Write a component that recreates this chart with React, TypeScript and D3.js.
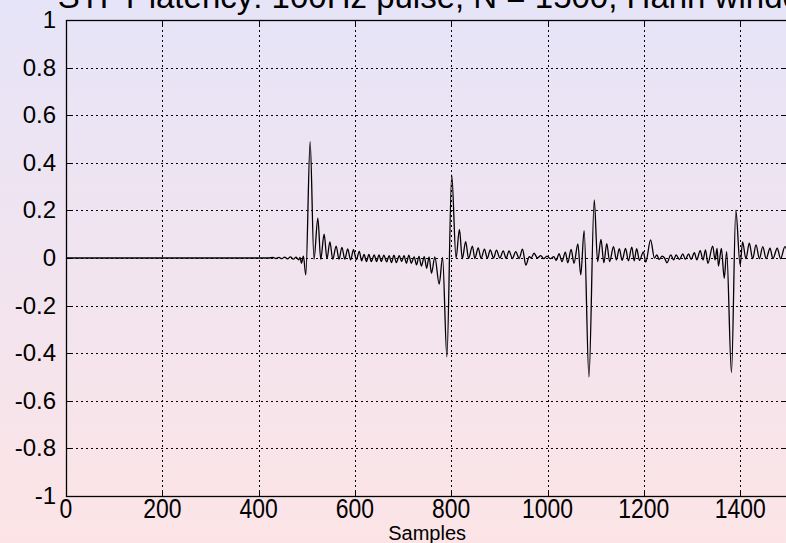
import { useEffect, useRef } from "react";
import * as d3 from "d3";

// readings of the impulse response (sample index, amplitude)
const sampleIdx = [
  0, 420, 430, 436, 442, 448, 454, 460, 466, 472, 478, 483, 486, 489, 493, 498,
  507, 515, 523, 529, 536, 542, 548, 554, 561, 567, 573, 579, 585, 591, 597, 603,
  609, 614, 619, 624, 629, 634, 640, 645, 650, 655, 660, 666, 671, 676, 681, 686,
  692, 697, 702, 707, 712, 717, 723, 728, 733, 738, 744, 749, 754, 759, 766, 775,
  782, 791, 801, 810, 817, 823, 830, 836, 844, 849, 856, 862, 869, 875, 881, 888,
  894, 901, 908, 914, 920, 927, 934, 941, 948, 955, 962, 966, 972, 979, 986, 992,
  999, 1006, 1013, 1018, 1024, 1030, 1037, 1042, 1049, 1055, 1063, 1069, 1076, 1086, 1097, 1104,
  1111, 1117, 1123, 1129, 1137, 1143, 1149, 1155, 1162, 1168, 1175, 1180, 1185, 1191, 1199, 1204,
  1214, 1222, 1227, 1232, 1238, 1243, 1248, 1256, 1262, 1267, 1274, 1281, 1286, 1293, 1298, 1305,
  1310, 1317, 1323, 1328, 1333, 1343, 1348, 1352, 1355, 1361, 1367, 1372, 1382, 1391, 1400, 1405,
  1412, 1419, 1426, 1433, 1440, 1447, 1454, 1462, 1468, 1477, 1484, 1493, 1500,
];
const amplitude = [
  0, 0, 0.002, -0.002, 0.003, -0.003, 0.004, -0.004, 0.005, -0.005, 0.004, -0.008, 0.002, -0.022, 0.008, -0.071,
  0.489, -0.005, 0.167, -0.005, 0.1, -0.003, 0.068, -0.005, 0.05, -0.005, 0.045, -0.005, 0.038, -0.008, 0.035, -0.007,
  0.028, -0.012, 0.015, -0.015, 0.015, -0.015, 0.013, -0.015, 0.013, -0.015, 0.012, -0.016, 0.01, -0.019, 0.012, -0.019,
  0.01, -0.015, 0.01, -0.022, 0.012, -0.022, 0.005, -0.029, 0.007, -0.034, 0.006, -0.043, 0.005, -0.064, 0.005, -0.11,
  0.003, -0.415, 0.349, 0.0, 0.12, -0.003, 0.069, -0.002, 0.05, -0.002, 0.042, -0.002, 0.037, -0.002, 0.034, 0.0,
  0.033, 0.0, 0.03, -0.002, 0.03, -0.002, 0.027, -0.002, 0.037, -0.03, 0.006, 0.0, 0.02, 0.0, 0.01, -0.003,
  0.008, -0.003, 0.006, -0.01, 0.018, -0.015, 0.025, -0.02, 0.036, -0.022, 0.059, -0.071, 0.115, -0.5, 0.244, -0.015,
  0.078, -0.02, 0.06, -0.015, 0.048, -0.008, 0.039, -0.01, 0.04, -0.012, 0.046, -0.012, 0.039, -0.01, 0.026, -0.017,
  0.076, 0.0, 0.013, -0.006, 0.008, 0.0, -0.02, 0.013, -0.008, 0.013, -0.006, 0.017, -0.006, 0.017, -0.006, 0.022,
  -0.008, 0.031, -0.008, 0.034, -0.022, 0.05, -0.008, 0.04, -0.034, 0.04, -0.085, 0.027, -0.482, 0.2, -0.03, 0.068,
  -0.003, 0.062, -0.003, 0.055, -0.003, 0.048, -0.003, 0.041, -0.003, 0.041, -0.003, 0.048, 0.01,
];

const xTicks = [0, 200, 400, 600, 800, 1000, 1200, 1400];
const yTicks = [-1, -0.8, -0.6, -0.4, -0.2, 0, 0.2, 0.4, 0.6, 0.8, 1];
const title = "STFT latency: 100Hz pulse, N = 1500, Hann window";
const xLabel = "Samples";

const W = 786;
const H = 543;
const font = "'Liberation Sans', Arial, Helvetica, sans-serif";

export default function App() {
  const ref = useRef(null);

  useEffect(() => {
    draw();
  });

  function draw() {
    const svg = d3.select(ref.current);
    svg.selectAll("*").remove();

    const defs = svg.append("defs");
    const grad = defs
      .append("linearGradient")
      .attr("id", "bg")
      .attr("x1", 0)
      .attr("y1", 0)
      .attr("x2", 0)
      .attr("y2", 1);
    grad.append("stop").attr("offset", "0%").attr("stop-color", "#e6e4f8");
    grad.append("stop").attr("offset", "100%").attr("stop-color", "#fce4e6");
    svg.append("rect").attr("width", W).attr("height", H).attr("fill", "url(#bg)");

    const x = d3.scaleLinear().domain([0, 1500]).range([66, 788.3]);
    const y = d3.scaleLinear().domain([-1, 1]).range([496, 20]);
    const [x0, x1] = x.range();
    const [y0, y1] = y.range();

    // grid
    const grid = svg.append("g").attr("stroke", "#000").attr("stroke-width", 1).attr("stroke-dasharray", "2,3");
    grid
      .selectAll("line.gx")
      .data(xTicks.slice(1))
      .enter()
      .append("line")
      .attr("x1", (d) => Math.round(x(d)) + 0.5)
      .attr("x2", (d) => Math.round(x(d)) + 0.5)
      .attr("y1", y1)
      .attr("y2", y0);
    grid
      .selectAll("line.gy")
      .data(yTicks.slice(1, -1))
      .enter()
      .append("line")
      .attr("y1", (d) => Math.round(y(d)) + 0.5)
      .attr("y2", (d) => Math.round(y(d)) + 0.5)
      .attr("x1", x0)
      .attr("x2", x1);

    // inward ticks
    const tl = 6;
    const ticks = svg.append("g").attr("stroke", "#000").attr("stroke-width", 1);
    xTicks.forEach((d) => {
      const px = Math.round(x(d)) + 0.5;
      ticks.append("line").attr("x1", px).attr("x2", px).attr("y1", y0).attr("y2", y0 - tl);
      ticks.append("line").attr("x1", px).attr("x2", px).attr("y1", y1).attr("y2", y1 + tl);
    });
    yTicks.forEach((d) => {
      const py = Math.round(y(d)) + 0.5;
      ticks.append("line").attr("y1", py).attr("y2", py).attr("x1", x0).attr("x2", x0 + tl);
      ticks.append("line").attr("y1", py).attr("y2", py).attr("x1", x1).attr("x2", x1 - tl);
    });

    // frame
    svg
      .append("rect")
      .attr("x", x0 + 0.5)
      .attr("y", y1 + 0.5)
      .attr("width", x1 - x0)
      .attr("height", y0 - y1)
      .attr("fill", "none")
      .attr("stroke", "#000")
      .attr("stroke-width", 1.3);

    // signal
    const pts: [number, number][] = sampleIdx.map((s, i) => [s, amplitude[i]]);
    const line = d3
      .line<[number, number]>()
      .x((d) => x(d[0]))
      .y((d) => y(d[1]))
      .curve(d3.curveMonotoneX);
    svg
      .append("path")
      .datum(pts)
      .attr("d", line)
      .attr("fill", "none")
      .attr("stroke", "#000")
      .attr("stroke-width", 1.3);

    // tick labels
    svg
      .append("g")
      .selectAll("text")
      .data(yTicks)
      .enter()
      .append("text")
      .attr("x", 56)
      .attr("y", (d) => y(d) + 8)
      .attr("text-anchor", "end")
      .attr("font-family", font)
      .attr("font-size", 24)
      .attr("fill", "#000")
      .text((d) => String(Math.round(d * 10) / 10));

    svg
      .append("g")
      .selectAll("text")
      .data(xTicks)
      .enter()
      .append("text")
      .attr("transform", (d) => "translate(" + x(d) + ",518) scale(0.85,1)")
      .attr("text-anchor", "middle")
      .attr("font-family", font)
      .attr("font-size", 27)
      .attr("fill", "#000")
      .text((d) => String(d));

    svg
      .append("text")
      .attr("x", (x0 + x1) / 2)
      .attr("y", 540)
      .attr("text-anchor", "middle")
      .attr("font-family", font)
      .attr("font-size", 20)
      .attr("fill", "#000")
      .text(xLabel);

    // title sits partly above the top edge, as in the source image
    svg
      .append("text")
      .attr("x", (x0 + x1) / 2 + 14)
      .attr("y", 8)
      .attr("text-anchor", "middle")
      .attr("font-family", font)
      .attr("font-size", 33)
      .attr("fill", "#000")
      .text(title);
  }

  return (
    <svg
      ref={ref}
      width={W}
      height={H}
      style={{ position: "absolute", left: 0, top: 0 }}
    ></svg>
  );
}
